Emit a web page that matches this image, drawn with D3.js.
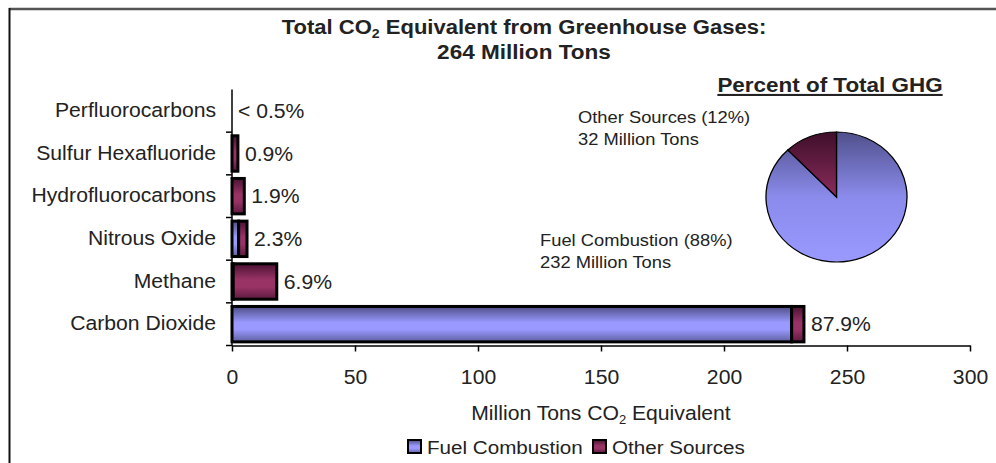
<!DOCTYPE html>
<html>
<head>
<meta charset="utf-8">
<script src="https://cdn.jsdelivr.net/npm/d3@7"></script>
<style>
  body { margin: 0; background: #fff; }
  svg { display: block; font-family: "Liberation Sans", Arial, sans-serif; }
</style>
</head>
<body>
<svg id="chart" width="996" height="463"></svg>
<script>
// data (million tons CO2 equivalent)
const categories = ['Perfluorocarbons', 'Sulfur Hexafluoride', 'Hydrofluorocarbons', 'Nitrous Oxide', 'Methane', 'Carbon Dioxide']
const fuelCombustion = [0, 0, 0, 2.7, 0.5, 227.5]
const otherSources = [0, 2.4, 5.0, 3.4, 17.7, 5.0]
const percentLabels = ['< 0.5%', '0.9%', '1.9%', '2.3%', '6.9%', '87.9%']
const xTicks = [0, 50, 100, 150, 200, 250, 300]

const pieNames = ['Fuel Combustion', 'Other Sources']
const pieValues = [232, 32]
const piePercents = ['88%', '12%']

// the original picture is stretched a bit sideways, so text and pie get this too
const SX = 1.085
const ink = '#222'

const svg = d3.select('#chart')
const defs = svg.append('defs')

// bar gradients: dark at the edges, light in the middle
function barGradient(id, dark, light, dark2) {
  const g = defs.append('linearGradient').attr('id', id)
    .attr('x1', 0).attr('y1', 0).attr('x2', 0).attr('y2', 1)
  g.append('stop').attr('offset', '0%').attr('stop-color', dark)
  g.append('stop').attr('offset', '45%').attr('stop-color', light)
  g.append('stop').attr('offset', '65%').attr('stop-color', light)
  g.append('stop').attr('offset', '100%').attr('stop-color', dark2)
}
barGradient('gBlue', '#4d4d85', '#9999ff', '#5f5fa0')
barGradient('gRed', '#4a1232', '#993366', '#5c1a3e')

function pieGradient(id, top, mid, bottom) {
  const g = defs.append('linearGradient').attr('id', id)
    .attr('gradientUnits', 'userSpaceOnUse')
    .attr('x1', 0).attr('y1', -65).attr('x2', 0).attr('y2', 65)
  g.append('stop').attr('offset', '0%').attr('stop-color', top)
  g.append('stop').attr('offset', '50%').attr('stop-color', mid)
  g.append('stop').attr('offset', '100%').attr('stop-color', bottom)
}
pieGradient('pBlue', '#50508c', '#8b8bec', '#9999ff')
pieGradient('pRed', '#3f0f2a', '#8a2c5c', '#993366')

const fills = { fuel: 'url(#gBlue)', other: 'url(#gRed)' }

function stretchText(parent, x, y, str, anchor) {
  return parent.append('text')
    .attr('transform', `translate(${x},${y}) scale(${SX},1)`)
    .attr('text-anchor', anchor || 'start')
    .attr('fill', ink)
    .text(str)
}

// frame
svg.append('line').attr('x1', 9).attr('y1', 9).attr('x2', 996).attr('y2', 9)
  .attr('stroke', '#555').attr('stroke-width', 2.5)
svg.append('line').attr('x1', 9.5).attr('y1', 8).attr('x2', 9.5).attr('y2', 463)
  .attr('stroke', '#111').attr('stroke-width', 2)

// title
const t1 = svg.append('text')
  .attr('transform', `translate(524,34) scale(${SX},1)`)
  .attr('text-anchor', 'middle').attr('font-weight', 'bold').attr('font-size', 20.3).attr('fill', ink)
t1.append('tspan').text('Total CO')
t1.append('tspan').attr('font-size', 13).attr('dy', 4).text('2')
t1.append('tspan').attr('dy', -4).text(' Equivalent from Greenhouse Gases:')
stretchText(svg, 524, 59, '264 Million Tons', 'middle')
  .attr('font-weight', 'bold').attr('font-size', 20.8)

// bar chart
const x = d3.scaleLinear().domain([0, 300]).range([232, 970])
const y = d3.scaleBand().domain(categories).range([89.5, 345.5]).paddingInner(0.17).paddingOuter(0.085)

const rows = categories.map((c, i) => ({ cat: c, fuel: fuelCombustion[i], other: otherSources[i] }))
const stacked = d3.stack().keys(['fuel', 'other'])(rows)

svg.append('g')
  .selectAll('g')
  .data(stacked)
  .join('g')
  .attr('fill', s => fills[s.key])
  .selectAll('rect')
  .data(s => s.filter(d => d[1] - d[0] > 0))
  .join('rect')
  .attr('x', d => x(d[0]))
  .attr('y', d => y(d.data.cat))
  .attr('width', d => x(d[1]) - x(d[0]))
  .attr('height', y.bandwidth())
  .attr('stroke', '#000')
  .attr('stroke-width', 3)

// value labels at the bar ends
svg.append('g')
  .attr('font-size', 19.5)
  .selectAll('text')
  .data(rows)
  .join('text')
  .attr('transform', d => `translate(${x(d.fuel + d.other) + (d.fuel + d.other > 0 ? 7 : 6)},${y(d.cat) + y.bandwidth() / 2 + 7}) scale(${SX},1)`)
  .attr('fill', ink)
  .text((d, i) => percentLabels[i])

// x axis
const xAxis = svg.append('g')
  .attr('transform', 'translate(0,345.5)')
  .call(d3.axisBottom(x).tickValues(xTicks).tickSize(6).tickPadding(19).tickSizeOuter(0))
xAxis.select('.domain').attr('stroke', '#000').attr('stroke-width', 1.5)
xAxis.selectAll('.tick line').attr('stroke', '#000').attr('stroke-width', 1.5)
xAxis.selectAll('.tick text')
  .attr('font-size', 19.5).attr('font-family', null).attr('fill', ink)
  .attr('transform', `scale(${SX},1)`)

// y axis: labels via d3 axis, tick marks on band boundaries like the original
const yAxis = svg.append('g')
  .attr('transform', 'translate(232,0)')
  .call(d3.axisLeft(y).tickSize(0).tickPadding(16))
yAxis.select('.domain').remove()
yAxis.selectAll('.tick text')
  .attr('font-size', 19.5).attr('font-family', null).attr('fill', ink)
  .attr('transform', `translate(-16,0) scale(${SX},1) translate(16,0)`)

const bounds = d3.range(categories.length + 1).map(i => y.range()[0] + i * y.step())
svg.append('line').attr('x1', 232).attr('x2', 232).attr('y1', 89.5).attr('y2', 346)
  .attr('stroke', '#000').attr('stroke-width', 1.5)
svg.append('g').selectAll('line')
  .data(bounds.slice(1))
  .join('line')
  .attr('x1', 226).attr('x2', 232)
  .attr('y1', d => d).attr('y2', d => d)
  .attr('stroke', '#000').attr('stroke-width', 1.5)

// axis title
const at = svg.append('text')
  .attr('transform', `translate(601,420) scale(${SX},1)`)
  .attr('text-anchor', 'middle').attr('font-size', 19.5).attr('fill', ink)
at.append('tspan').text('Million Tons CO')
at.append('tspan').attr('font-size', 12).attr('dy', 4).text('2')
at.append('tspan').attr('dy', -4).text(' Equivalent')

// legend
const legendX = [408, 593]
const legend = svg.append('g')
  .selectAll('g')
  .data(pieNames)
  .join('g')
  .attr('transform', (d, i) => `translate(${legendX[i]},440)`)
legend.append('rect')
  .attr('width', 13).attr('height', 13)
  .attr('fill', (d, i) => i === 0 ? 'url(#gBlue)' : 'url(#gRed)')
  .attr('stroke', '#000').attr('stroke-width', 2)
legend.append('text')
  .attr('transform', `translate(19,14) scale(${SX},1)`)
  .attr('font-size', 19).attr('fill', ink)
  .text(d => d)

// pie of total GHG
stretchText(svg, 830, 92, 'Percent of Total GHG', 'middle')
  .attr('font-weight', 'bold').attr('font-size', 20.7)
  .attr('text-decoration', 'underline')

const pie = d3.pie().sort(null)(pieValues)
const arc = d3.arc().innerRadius(0).outerRadius(65)
svg.append('g')
  .attr('transform', `translate(836.5,197) scale(${SX},1)`)
  .selectAll('path')
  .data(pie)
  .join('path')
  .attr('d', arc)
  .attr('fill', (d, i) => i === 0 ? 'url(#pBlue)' : 'url(#pRed)')
  .attr('stroke', '#000')
  .attr('stroke-width', 1.2)

const pieLabelPos = [[540, 246], [578, 123]]
pieNames.forEach((name, i) => {
  const [px, py] = pieLabelPos[i]
  stretchText(svg, px, py, `${name} (${piePercents[i]})`).attr('font-size', 16.9)
  stretchText(svg, px, py + 22, `${pieValues[i]} Million Tons`).attr('font-size', 16.9)
})
</script>
</body>
</html>
